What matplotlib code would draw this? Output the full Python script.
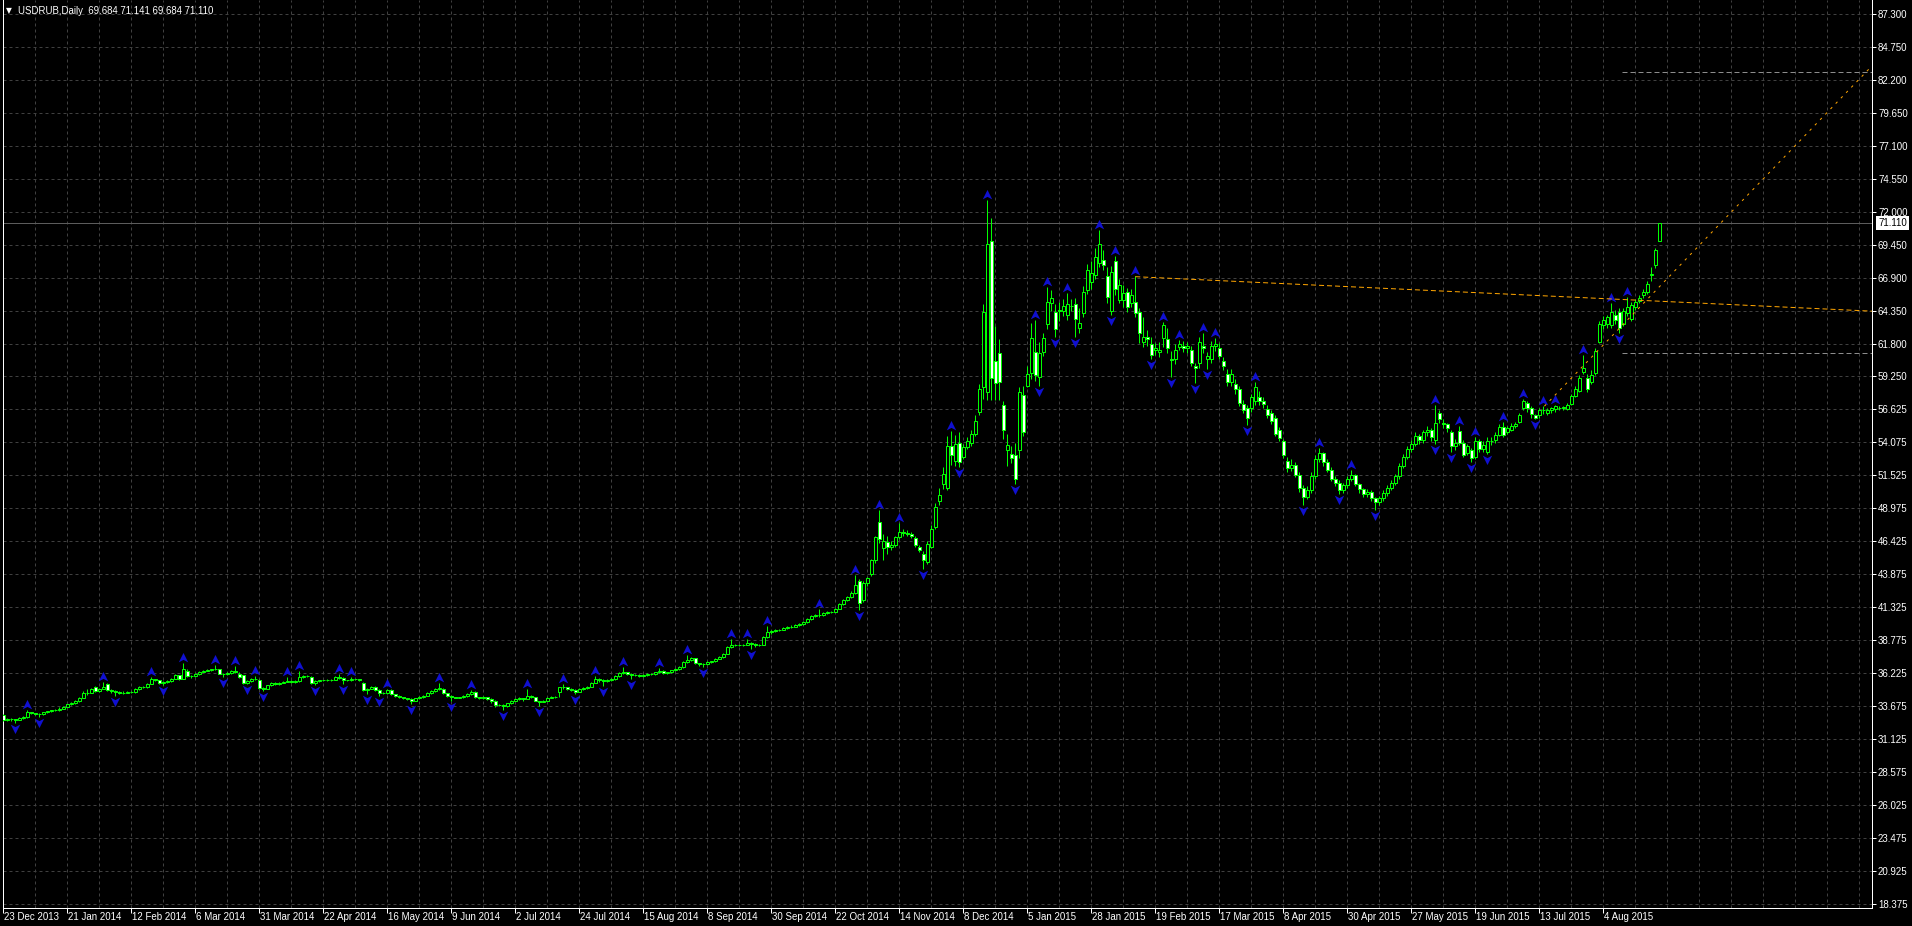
import matplotlib
matplotlib.use("Agg")
import matplotlib.pyplot as plt
import matplotlib.transforms as mtransforms
from matplotlib.path import Path
import numpy as np

plt.rcParams.update({
    "font.family": ["Liberation Sans", "DejaVu Sans"],
    "lines.scale_dashes": False,
})

W, H, DPI = 1912, 926, 100
PX = 72 / DPI  # one pixel in points

BG = "#000000"
GREEN = "#00FF00"
GRID = "#404040"
BLUE = "#1010d0"
ORANGE = "#FFA500"
LEVEL = "#8c8c8c"
BIDLINE = "#5c5c5c"

# ---- data (daily bars, 23 Dec 2013 .. 24 Aug 2015) ----
header = "USDRUB,Daily  69.684 71.141 69.684 71.110"

date_labels = ["23 Dec 2013", "21 Jan 2014", "12 Feb 2014", "6 Mar 2014", "31 Mar 2014",
               "22 Apr 2014", "16 May 2014", "9 Jun 2014", "2 Jul 2014", "24 Jul 2014",
               "15 Aug 2014", "8 Sep 2014", "30 Sep 2014", "22 Oct 2014", "14 Nov 2014",
               "8 Dec 2014", "5 Jan 2015", "28 Jan 2015", "19 Feb 2015", "17 Mar 2015",
               "8 Apr 2015", "30 Apr 2015", "27 May 2015", "19 Jun 2015", "13 Jul 2015",
               "4 Aug 2015"]
label_step = 16   # bars between date labels
grid_step = 8     # bars between vertical grid lines

y_labels = ["18.375", "20.925", "23.475", "26.025", "28.575", "31.125", "33.675",
            "36.225", "38.775", "41.325", "43.875", "46.425", "48.975", "51.525",
            "54.075", "56.625", "59.250", "61.800", "64.350", "66.900", "69.450",
            "72.000", "74.550", "77.100", "79.650", "82.200", "84.750", "87.300"]

opens = [
    32.98, 32.62, 32.67, 32.67, 32.65, 32.77, 32.85, 33.20, 33.13, 33.10,
    33.05, 33.20, 33.29, 33.37, 33.39, 33.50, 33.65, 33.83, 33.90, 34.09,
    34.34, 34.73, 34.73, 35.17, 34.86, 35.04, 35.37, 34.91, 34.86, 34.78,
    34.73, 34.73, 34.78, 34.78, 35.00, 35.17, 35.17, 35.43, 35.76, 35.68,
    35.50, 35.58, 35.63, 35.81, 36.07, 35.81, 36.40, 36.02, 36.02, 36.15,
    36.35, 36.40, 36.48, 36.53, 36.53, 36.20, 36.20, 36.22, 36.40, 36.15,
    36.07, 35.50, 35.63, 35.76, 35.68, 35.12, 35.04, 35.30, 35.50, 35.43,
    35.50, 35.58, 35.63, 35.55, 35.63, 35.94, 36.02, 35.97, 35.45, 35.63,
    35.68, 35.68, 35.68, 35.71, 35.97, 35.89, 35.68, 35.68, 35.76, 35.76,
    35.50, 34.91, 35.04, 35.17, 34.91, 34.73, 34.68, 34.93, 34.60, 34.47,
    34.40, 34.29, 34.24, 34.10, 34.29, 34.40, 34.50, 34.70, 34.83, 35.00,
    35.01, 34.68, 34.45, 34.37, 34.35, 34.37, 34.45, 34.63, 34.80, 34.37,
    34.32, 34.37, 34.24, 34.10, 33.78, 33.78, 33.68, 33.90, 34.11, 34.24,
    34.29, 34.24, 34.50, 34.37, 34.11, 34.03, 34.10, 34.30, 34.37, 34.76,
    35.14, 35.14, 35.01, 34.96, 34.81, 35.01, 35.09, 35.20, 35.50, 35.79,
    35.71, 35.60, 35.71, 35.79, 36.05, 36.25, 36.30, 36.17, 36.10, 36.12,
    36.05, 36.10, 36.20, 36.15, 36.30, 36.40, 36.25, 36.30, 36.45, 36.55,
    36.72, 37.11, 37.29, 37.40, 37.00, 36.98, 36.95, 37.11, 37.15, 37.37,
    37.49, 37.75, 38.27, 38.45, 38.45, 38.42, 38.45, 38.58, 38.53, 38.40,
    38.45, 39.04, 39.43, 39.50, 39.56, 39.60, 39.75, 39.82, 39.85, 40.00,
    40.07, 40.20, 40.40, 40.70, 40.77, 40.75, 40.90, 40.98, 41.00, 41.23,
    41.62, 41.88, 42.14, 42.45, 43.40, 41.90, 43.20, 43.94, 44.97, 47.94,
    45.90, 46.40, 46.00, 46.20, 46.78, 47.17, 47.10, 47.05, 46.70, 46.00,
    45.50, 44.85, 46.00, 47.55, 49.60, 50.90, 50.60, 53.80, 52.70, 54.10,
    52.96, 53.75, 54.10, 54.80, 56.45, 58.40, 58.00, 69.70, 60.40, 61.00,
    57.00, 53.50, 53.20, 53.10, 53.50, 57.80, 58.50, 59.50, 61.10, 59.20,
    61.10, 63.30, 64.90, 64.20, 64.30, 64.30, 64.00, 64.70, 64.80, 63.00,
    64.10, 65.90, 66.50, 67.10, 68.00, 68.25, 67.00, 64.30, 68.20, 65.15,
    65.15, 65.80, 64.90, 65.00, 64.20, 61.90, 62.30, 61.70, 61.30, 61.10,
    62.20, 62.10, 60.60, 60.55, 61.50, 61.60, 61.40, 61.30, 60.00, 60.30,
    61.60, 60.55, 60.60, 61.60, 61.40, 60.40, 59.40, 58.80, 58.65, 58.25,
    57.10, 56.75, 56.80, 57.30, 57.60, 57.30, 56.70, 56.40, 56.00, 55.10,
    54.20, 52.70, 52.10, 52.40, 51.60, 50.60, 49.90, 50.40, 51.50, 52.80,
    53.30, 52.60, 52.00, 51.30, 51.00, 50.40, 50.80, 51.30, 51.60, 50.90,
    50.50, 50.10, 50.30, 49.80, 49.50, 49.80, 50.20, 50.60, 51.00, 51.50,
    52.30, 53.00, 53.60, 54.00, 54.60, 54.30, 54.90, 55.10, 54.30, 56.40,
    55.60, 55.50, 54.90, 53.80, 55.00, 54.05, 53.30, 53.50, 52.95, 54.20,
    53.60, 53.40, 54.20, 54.30, 54.70, 55.30, 54.90, 55.10, 55.40, 55.70,
    56.75, 57.20, 56.80, 56.25, 56.20, 56.60, 56.40, 56.60, 56.70, 56.80,
    56.80, 56.70, 57.10, 57.70, 58.10, 59.60, 59.10, 58.80, 59.50, 61.90,
    63.20, 63.30, 63.20, 64.00, 64.20, 63.30, 64.10, 63.70, 64.60, 65.05,
    65.50, 65.80, 67.05, 67.85, 69.684,
]
highs = [
    33.05, 32.75, 32.75, 32.72, 32.82, 32.92, 33.42, 33.25, 33.18, 33.15,
    33.26, 33.34, 33.42, 33.45, 33.58, 33.72, 33.88, 33.97, 34.15, 34.42,
    34.85, 35.05, 35.08, 35.25, 35.12, 35.55, 35.45, 34.98, 34.90, 34.82,
    34.82, 34.85, 34.86, 35.06, 35.24, 35.26, 35.50, 35.95, 35.80, 35.72,
    35.66, 35.70, 35.88, 36.15, 36.12, 37.05, 36.55, 36.10, 36.22, 36.42,
    36.46, 36.54, 36.60, 36.85, 36.60, 36.26, 36.30, 36.50, 36.78, 36.35,
    36.12, 35.70, 35.85, 36.00, 35.75, 35.18, 35.36, 35.58, 35.55, 35.58,
    35.66, 35.97, 35.68, 35.70, 36.38, 36.10, 36.08, 36.05, 35.70, 35.74,
    35.74, 35.75, 35.78, 36.03, 36.20, 35.95, 35.74, 35.97, 35.82, 35.80,
    35.58, 35.10, 35.24, 35.22, 34.98, 34.78, 35.00, 34.98, 34.66, 34.52,
    34.42, 34.33, 34.28, 34.35, 34.46, 34.58, 34.76, 34.90, 35.08, 35.45,
    35.08, 34.72, 34.52, 34.42, 34.43, 34.52, 34.70, 34.95, 34.86, 34.42,
    34.44, 34.40, 34.30, 34.14, 33.86, 33.82, 33.96, 34.18, 34.30, 34.36,
    34.32, 35.00, 34.56, 34.42, 34.12, 34.16, 34.36, 34.44, 34.46, 35.20,
    35.40, 35.20, 35.06, 35.00, 35.08, 35.15, 35.28, 35.58, 36.05, 35.85,
    35.76, 35.78, 35.85, 36.12, 36.32, 36.69, 36.36, 36.22, 36.18, 36.14,
    36.18, 36.26, 36.25, 36.36, 36.64, 36.45, 36.36, 36.52, 36.62, 36.80,
    37.18, 37.62, 37.48, 37.45, 37.06, 37.05, 37.18, 37.22, 37.44, 37.56,
    37.82, 38.35, 38.88, 38.52, 38.50, 38.52, 38.90, 38.66, 38.60, 38.52,
    39.12, 39.93, 39.58, 39.64, 39.68, 39.82, 39.90, 39.94, 40.08, 40.14,
    40.28, 40.48, 40.78, 40.86, 41.18, 40.98, 41.06, 41.08, 41.30, 41.70,
    41.98, 42.24, 42.60, 43.81, 43.50, 43.35, 43.70, 45.10, 46.90, 48.84,
    47.05, 46.90, 46.45, 46.90, 47.90, 47.40, 47.30, 47.15, 46.85, 46.20,
    45.70, 46.50, 47.70, 49.40, 50.60, 52.20, 54.60, 55.03, 54.70, 54.90,
    54.00, 54.50, 55.10, 56.20, 58.60, 64.80, 72.90, 71.50, 63.10, 62.10,
    57.30, 54.80, 53.80, 54.10, 58.40, 58.50, 60.00, 63.40, 63.60, 61.90,
    62.60, 66.18, 65.90, 64.80, 65.00, 65.20, 65.67, 65.20, 65.30, 64.50,
    66.20, 67.90, 68.20, 69.20, 70.57, 69.00, 67.70, 67.80, 68.55, 66.80,
    66.30, 66.10, 66.00, 67.00, 64.50, 63.80, 62.80, 62.30, 61.80, 61.90,
    63.47, 63.00, 61.20, 61.70, 62.05, 62.00, 61.90, 61.60, 60.30, 62.30,
    62.60, 61.10, 62.00, 62.23, 61.80, 60.70, 59.80, 59.80, 59.00, 58.50,
    57.40, 57.00, 57.90, 58.82, 58.10, 57.60, 57.00, 56.60, 56.20, 55.30,
    54.40, 53.00, 52.80, 52.60, 51.80, 50.80, 50.70, 51.80, 53.10, 53.70,
    53.40, 52.80, 52.20, 51.50, 51.20, 51.00, 51.50, 52.00, 51.70, 51.00,
    50.60, 50.50, 50.40, 49.90, 50.00, 50.40, 50.80, 51.20, 51.70, 52.50,
    53.20, 53.80, 54.30, 54.90, 54.80, 55.10, 55.40, 55.20, 57.00, 56.60,
    55.90, 55.60, 55.10, 54.40, 55.35, 54.30, 54.00, 53.70, 54.50, 54.40,
    54.20, 54.50, 54.50, 54.90, 55.50, 55.70, 55.40, 55.60, 55.70, 56.40,
    57.45, 57.30, 56.90, 56.30, 56.80, 56.90, 56.80, 56.85, 57.00, 56.95,
    56.95, 57.20, 57.90, 58.50, 59.30, 60.90, 59.40, 59.70, 61.40, 63.50,
    63.90, 64.00, 64.90, 64.40, 64.50, 64.50, 65.40, 65.00, 65.20, 65.50,
    66.00, 66.60, 67.70, 69.20, 71.141,
]
lows = [
    32.55, 32.55, 32.55, 32.40, 32.60, 32.72, 32.80, 33.05, 33.02, 32.85,
    33.00, 33.15, 33.24, 33.30, 33.33, 33.45, 33.60, 33.78, 33.84, 34.02,
    34.28, 34.55, 34.68, 34.80, 34.78, 34.98, 34.85, 34.70, 34.50, 34.62,
    34.66, 34.68, 34.70, 34.74, 34.94, 35.08, 35.12, 35.38, 35.60, 35.42,
    35.30, 35.50, 35.58, 35.77, 35.74, 35.78, 35.95, 35.85, 35.96, 36.10,
    36.32, 36.38, 36.44, 36.48, 36.15, 35.95, 36.12, 36.18, 36.25, 35.90,
    35.42, 35.40, 35.58, 35.68, 35.05, 34.85, 34.98, 35.22, 35.35, 35.36,
    35.45, 35.52, 35.48, 35.50, 35.58, 35.88, 35.92, 35.40, 35.33, 35.58,
    35.60, 35.62, 35.64, 35.68, 35.82, 35.38, 35.60, 35.66, 35.68, 35.60,
    34.85, 34.60, 34.98, 34.85, 34.48, 34.60, 34.64, 34.55, 34.40, 34.32,
    34.22, 34.18, 33.85, 34.05, 34.24, 34.35, 34.45, 34.65, 34.78, 34.95,
    34.62, 34.40, 34.10, 34.28, 34.30, 34.32, 34.40, 34.58, 34.30, 34.24,
    34.26, 34.16, 33.90, 33.60, 33.70, 33.42, 33.62, 33.85, 34.05, 34.18,
    34.10, 34.20, 34.30, 34.05, 33.68, 33.98, 34.05, 34.28, 34.32, 34.40,
    35.00, 34.95, 34.85, 34.62, 34.76, 34.96, 35.02, 35.15, 35.45, 35.55,
    35.27, 35.52, 35.66, 35.74, 35.98, 36.20, 36.10, 35.80, 36.02, 35.98,
    35.98, 36.04, 36.08, 36.10, 36.24, 36.18, 36.20, 36.26, 36.40, 36.50,
    36.66, 37.02, 37.20, 36.92, 36.80, 36.70, 36.90, 37.04, 37.08, 37.30,
    37.44, 37.70, 38.20, 38.36, 38.34, 38.36, 38.40, 38.14, 38.30, 38.32,
    38.40, 38.98, 39.30, 39.42, 39.48, 39.55, 39.68, 39.76, 39.78, 39.92,
    40.00, 40.14, 40.34, 40.60, 40.62, 40.68, 40.82, 40.90, 40.95, 41.18,
    41.55, 41.80, 42.05, 42.40, 41.10, 41.75, 43.00, 43.80, 44.80, 46.30,
    45.00, 45.50, 45.80, 46.05, 46.60, 46.90, 46.90, 46.70, 46.00, 45.60,
    44.33, 44.70, 45.90, 47.40, 49.30, 50.50, 50.40, 52.40, 52.30, 52.20,
    52.80, 53.60, 53.80, 54.60, 56.20, 57.50, 57.40, 57.40, 57.40, 57.40,
    54.40, 52.30, 52.50, 50.90, 52.90, 54.60, 58.40, 59.00, 58.90, 58.50,
    60.80, 62.90, 64.30, 62.30, 63.50, 63.90, 63.60, 64.30, 62.30, 62.60,
    63.80, 65.60, 66.00, 66.80, 67.70, 67.50, 64.90, 64.00, 65.50, 64.90,
    64.60, 64.20, 64.60, 63.80, 61.80, 61.50, 61.60, 60.58, 60.90, 60.70,
    61.50, 61.00, 59.20, 60.20, 61.30, 61.10, 61.00, 60.00, 58.70, 59.90,
    61.00, 59.80, 60.30, 61.20, 60.60, 59.70, 58.50, 58.50, 57.90, 56.90,
    56.40, 55.46, 56.50, 57.00, 57.00, 56.80, 56.00, 55.50, 54.60, 54.20,
    52.90, 51.80, 51.90, 51.40, 50.30, 49.30, 49.70, 50.20, 51.30, 52.60,
    52.30, 51.80, 51.10, 50.70, 50.10, 50.20, 50.60, 51.10, 50.70, 50.20,
    49.90, 49.90, 49.60, 48.90, 49.30, 49.60, 50.00, 50.40, 50.80, 51.30,
    52.10, 52.80, 53.40, 53.80, 54.00, 54.10, 54.60, 54.20, 54.00, 55.60,
    55.20, 54.90, 53.40, 53.50, 53.90, 53.00, 53.10, 52.60, 52.80, 53.40,
    53.40, 53.20, 53.90, 54.10, 54.60, 54.50, 54.80, 55.00, 55.20, 55.60,
    56.60, 56.50, 56.00, 55.90, 56.00, 56.30, 56.20, 56.40, 56.50, 56.60,
    56.60, 56.60, 57.00, 57.60, 58.00, 59.40, 58.00, 58.60, 59.30, 61.80,
    62.90, 63.00, 63.00, 63.30, 62.60, 63.10, 63.90, 63.50, 64.40, 64.90,
    65.30, 65.60, 66.60, 67.60, 69.684,
]
closes = [
    32.62, 32.67, 32.67, 32.65, 32.77, 32.85, 33.20, 33.13, 33.10, 33.05,
    33.20, 33.29, 33.37, 33.39, 33.50, 33.65, 33.83, 33.90, 34.09, 34.34,
    34.73, 34.73, 35.00, 34.86, 35.04, 35.20, 34.91, 34.86, 34.78, 34.73,
    34.73, 34.78, 34.78, 35.00, 35.17, 35.17, 35.43, 35.76, 35.68, 35.50,
    35.58, 35.63, 35.81, 36.07, 35.81, 36.58, 36.02, 36.02, 36.15, 36.35,
    36.40, 36.48, 36.53, 36.58, 36.20, 36.20, 36.22, 36.40, 36.35, 35.97,
    35.50, 35.63, 35.76, 35.80, 35.12, 35.04, 35.30, 35.50, 35.43, 35.50,
    35.58, 35.63, 35.55, 35.63, 35.94, 36.02, 36.02, 35.45, 35.63, 35.68,
    35.68, 35.68, 35.71, 35.97, 35.89, 35.68, 35.68, 35.76, 35.76, 35.68,
    34.91, 35.04, 35.17, 34.91, 34.73, 34.68, 34.93, 34.60, 34.47, 34.40,
    34.29, 34.24, 34.10, 34.29, 34.40, 34.50, 34.70, 34.83, 35.00, 35.07,
    34.68, 34.45, 34.37, 34.35, 34.37, 34.45, 34.63, 34.80, 34.37, 34.32,
    34.37, 34.24, 34.10, 33.78, 33.78, 33.68, 33.90, 34.11, 34.24, 34.29,
    34.24, 34.50, 34.37, 34.11, 34.03, 34.10, 34.30, 34.37, 34.40, 35.14,
    35.14, 35.01, 34.96, 34.81, 35.01, 35.09, 35.20, 35.50, 35.79, 35.71,
    35.60, 35.71, 35.79, 36.05, 36.25, 36.30, 36.17, 36.10, 36.12, 36.05,
    36.10, 36.20, 36.15, 36.30, 36.40, 36.25, 36.30, 36.45, 36.55, 36.72,
    37.11, 37.29, 37.42, 37.00, 36.98, 36.95, 37.11, 37.15, 37.37, 37.49,
    37.75, 38.27, 38.45, 38.45, 38.42, 38.45, 38.58, 38.53, 38.40, 38.45,
    39.04, 39.43, 39.50, 39.56, 39.60, 39.75, 39.82, 39.85, 40.00, 40.07,
    40.20, 40.40, 40.70, 40.77, 40.75, 40.90, 40.98, 41.00, 41.23, 41.62,
    41.88, 42.14, 42.45, 43.04, 41.70, 43.20, 43.60, 44.97, 46.78, 46.65,
    46.50, 46.00, 46.20, 46.78, 47.17, 47.10, 47.05, 46.90, 46.15, 45.75,
    45.00, 46.27, 47.40, 49.10, 50.06, 51.70, 53.87, 53.10, 54.00, 52.60,
    53.75, 54.25, 54.77, 55.80, 58.25, 64.20, 69.50, 59.10, 58.70, 58.80,
    55.10, 53.90, 52.90, 51.30, 58.00, 54.95, 59.40, 62.20, 59.30, 61.00,
    62.20, 65.00, 65.30, 62.90, 64.40, 64.70, 64.80, 64.65, 63.70, 63.40,
    65.80, 67.50, 67.20, 68.50, 69.50, 67.85, 65.40, 67.30, 66.00, 66.30,
    65.70, 64.60, 65.50, 64.10, 62.60, 62.30, 62.10, 60.90, 61.40, 61.30,
    63.20, 61.40, 60.50, 61.30, 61.70, 61.45, 61.60, 60.25, 59.90, 61.90,
    61.40, 60.80, 61.60, 61.70, 60.80, 60.00, 58.80, 59.40, 58.25, 57.20,
    56.60, 56.00, 57.65, 58.40, 57.30, 57.05, 56.25, 55.75, 54.80, 54.45,
    53.15, 52.10, 52.40, 51.60, 50.60, 49.90, 50.40, 51.50, 52.80, 53.30,
    52.60, 52.00, 51.30, 51.00, 50.40, 50.80, 51.30, 51.60, 50.90, 50.50,
    50.10, 50.30, 49.80, 49.50, 49.80, 50.20, 50.60, 51.00, 51.50, 52.30,
    53.00, 53.60, 54.00, 54.60, 54.30, 54.90, 55.10, 54.50, 55.60, 55.90,
    55.50, 55.20, 53.80, 54.10, 54.10, 53.15, 53.80, 52.90, 54.20, 53.60,
    53.90, 54.20, 54.25, 54.70, 55.30, 54.70, 55.20, 55.40, 55.50, 56.20,
    57.30, 56.75, 56.30, 56.00, 56.60, 56.62, 56.60, 56.80, 56.90, 56.80,
    56.85, 57.00, 57.70, 58.25, 59.10, 59.85, 58.25, 59.30, 61.20, 63.30,
    63.60, 63.80, 64.20, 63.60, 62.95, 64.30, 64.60, 64.75, 65.00, 65.30,
    65.80, 66.35, 67.15, 69.00, 71.110,
]

# drawn objects: (bar, price) anchors
trend_down = [(283.0, 66.95), (414.0, 65.05)]
trend_up = [(385.3, 56.92), (416.0, 66.80)]
level_prices = [82.80, 61.00]
level_start = 404.7
bid = 71.110
bid_text = "71.110"

# ---- figure ----
o = np.array(opens)
h = np.array(highs)
l = np.array(lows)
c = np.array(closes)
n = len(c)
x = np.arange(n)
x_right = 467.2

fig = plt.figure(figsize=(W / DPI, H / DPI), dpi=DPI, facecolor=BG)
ax = fig.add_axes([2.5 / W, 18 / H, 1869.5 / W, 908 / H], facecolor=BG)
ax.set_xlim(-0.2, x_right)
ax.set_ylim(18.05, 88.38)

# grid
ax.set_xticks(np.arange(0, x_right, grid_step), minor=True)
ax.set_xticks(np.arange(len(date_labels)) * label_step)
ax.set_xticklabels([])
ax.set_yticks(np.linspace(18.375, 87.3, len(y_labels)))
ax.set_yticklabels(y_labels)
ax.yaxis.tick_right()
ax.grid(True, which="both", color=GRID, linestyle=(0, (3 * PX, 3 * PX)), linewidth=PX)
ax.set_axisbelow(True)
ax.tick_params(axis="x", which="major", direction="out", length=5 * PX, width=PX,
               color="white")
ax.tick_params(axis="x", which="minor", length=0)
ax.tick_params(axis="y", direction="out", length=4 * PX, width=PX, color="white",
               labelcolor="white", labelsize=7.0, pad=2 * PX)
for s in ("left", "right", "bottom"):
    ax.spines[s].set_color("white")
    ax.spines[s].set_linewidth(PX)
ax.spines["top"].set_visible(False)

# date labels, left-aligned at their tick
dtrans = mtransforms.blended_transform_factory(ax.transData, fig.transFigure)
for i, lab in enumerate(date_labels):
    ax.text(i * label_step + 0.3, (H - 917) / H, lab, transform=dtrans, ha="left",
            va="center", color="white", fontsize=7.0, clip_on=False)

# bid line
ax.axhline(bid, color=BIDLINE, lw=PX, zorder=1)

# candles
bull = c >= o
ax.vlines(x, l, h, color=GREEN, lw=PX, zorder=3)
ax.bar(x, c - o, bottom=o, width=0.72, color=np.where(bull, "black", "white"),
       edgecolor=GREEN, linewidth=PX, zorder=4)

# fractals
up = [i for i in range(2, n - 2) if h[i] > max(h[i - 2], h[i - 1], h[i + 1], h[i + 2])]
dn = [i for i in range(2, n - 2) if l[i] < min(l[i - 2], l[i - 1], l[i + 1], l[i + 2])]
arrow_up = Path([(0, 1), (0.85, -0.7), (0, -0.25), (-0.85, -0.7), (0, 1)],
                [Path.MOVETO, Path.LINETO, Path.LINETO, Path.LINETO, Path.CLOSEPOLY])
arrow_dn = Path([(0, -1), (0.85, 0.7), (0, 0.25), (-0.85, 0.7), (0, -1)],
                [Path.MOVETO, Path.LINETO, Path.LINETO, Path.LINETO, Path.CLOSEPOLY])
off_up = ax.transData + mtransforms.ScaledTranslation(0, 5 / DPI, fig.dpi_scale_trans)
off_dn = ax.transData + mtransforms.ScaledTranslation(0, -5 / DPI, fig.dpi_scale_trans)
ax.plot(up, h[up], ls="none", marker=arrow_up, ms=8, color=BLUE, mew=0,
        transform=off_up, zorder=5)
ax.plot(dn, l[dn], ls="none", marker=arrow_dn, ms=8, color=BLUE, mew=0,
        transform=off_dn, zorder=5)


def ray(p0, p1):
    (x0, y0), (x1, y1) = p0, p1
    k = (y1 - y0) / (x1 - x0)
    return [x0, x_right], [y0, y0 + k * (x_right - x0)]


xs, ys = ray(*trend_down)
ax.plot(xs, ys, color=ORANGE, lw=PX, linestyle=(0, (5 * PX, 3 * PX)), zorder=6)
xs, ys = ray(*trend_up)
ax.plot(xs, ys, color=ORANGE, lw=PX, linestyle=(0, (2.5 * PX, 5 * PX)), zorder=6)
ax.hlines(level_prices, level_start, x_right, color=LEVEL, lw=PX,
          linestyle=(0, (5 * PX, 3 * PX)), zorder=2)

# current price tag
btrans = mtransforms.blended_transform_factory(fig.transFigure, ax.transData)
ax.text(1878 / W, bid, bid_text, transform=btrans, ha="left", va="center",
        color="black", fontsize=7.0, clip_on=False, zorder=10,
        bbox=dict(boxstyle="square,pad=0.2", fc="white", ec="none"))

# header
fig.text(6 / W, 1 - 10.5 / H, "\u25bc", family="DejaVu Sans", fontsize=5.5,
         color="white", va="center", ha="left")
fig.text(18 / W, 1 - 10.5 / H, header, color="white", fontsize=6.9,
         va="center", ha="left")

fig.savefig("out.png", dpi=DPI, facecolor=BG)
